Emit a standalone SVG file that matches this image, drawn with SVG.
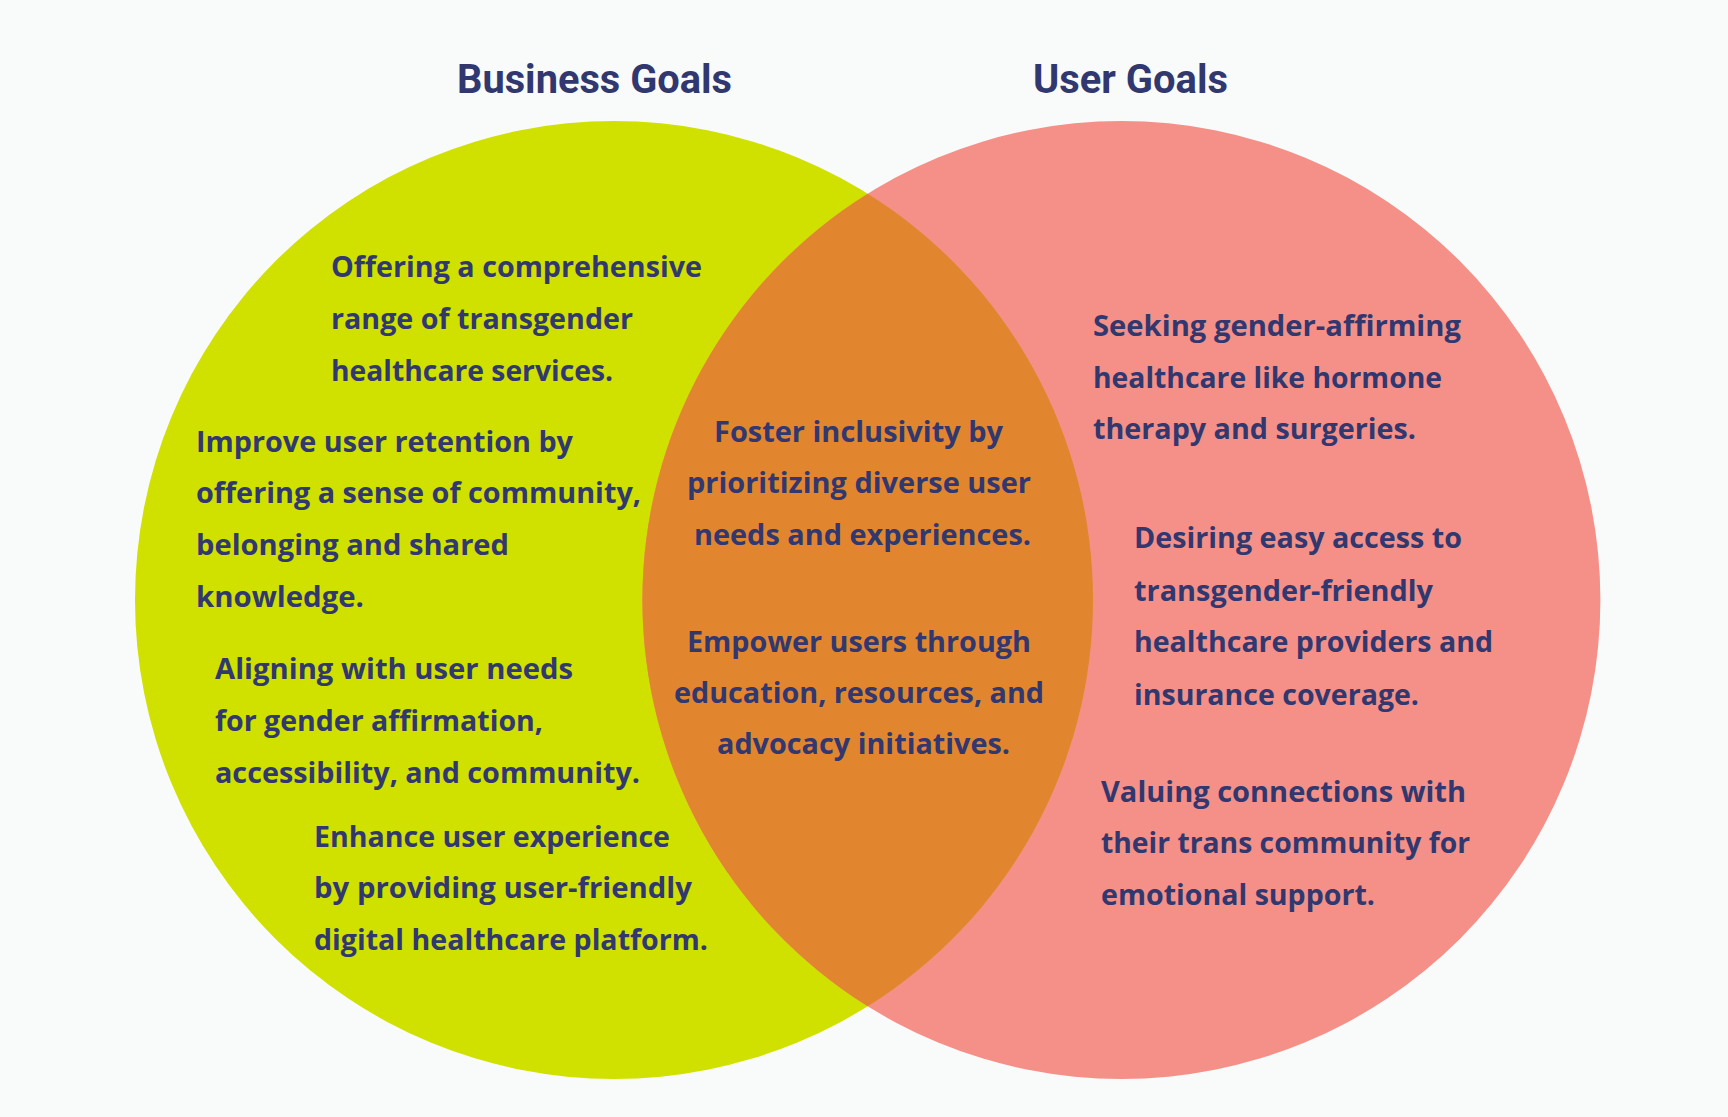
<svg xmlns="http://www.w3.org/2000/svg" width="1728" height="1117" viewBox="0 0 1728 1117">
<style>
.title{font-family:Roboto,"Liberation Sans",sans-serif;font-weight:700;font-size:40px;fill:#31386F}
.t{font-family:"Open Sans","Noto Sans","Liberation Sans",sans-serif;font-weight:700;font-size:29px;fill:#31386F}
</style>
<rect width="1728" height="1117" fill="#F9FBFA"/>
<g id="business-circle"><circle cx="614" cy="600" r="479" fill="#D0E100"/></g>
<g id="user-circle"><circle cx="1121.4" cy="600" r="479" fill="#F49088"/></g>
<g id="overlap"><path d="M867.7 193.7 A479 479 0 0 1 867.7 1006.3 A479 479 0 0 1 867.7 193.7 Z" fill="#E1862F"/></g>
<g id="connectors"></g>
<g id="titles">
<text class="title" x="457" y="93" textLength="275" lengthAdjust="spacingAndGlyphs">Business Goals</text>
<text class="title" x="1033" y="93" textLength="195" lengthAdjust="spacingAndGlyphs">User Goals</text>
</g>
<g id="business-1">
<text class="t" x="331" y="277" textLength="371" lengthAdjust="spacingAndGlyphs">Offering a comprehensive</text>
<text class="t" x="331" y="329" textLength="302" lengthAdjust="spacingAndGlyphs">range of transgender</text>
<text class="t" x="331" y="381" textLength="282" lengthAdjust="spacingAndGlyphs">healthcare services.</text>
</g>
<g id="business-2">
<text class="t" x="196" y="452" textLength="377" lengthAdjust="spacingAndGlyphs">Improve user retention by</text>
<text class="t" x="196" y="503" textLength="445" lengthAdjust="spacingAndGlyphs">offering a sense of community,</text>
<text class="t" x="196" y="555" textLength="313" lengthAdjust="spacingAndGlyphs">belonging and shared</text>
<text class="t" x="196" y="607" textLength="168" lengthAdjust="spacingAndGlyphs">knowledge.</text>
</g>
<g id="business-3">
<text class="t" x="215" y="679" textLength="358" lengthAdjust="spacingAndGlyphs">Aligning with user needs</text>
<text class="t" x="215" y="731" textLength="328" lengthAdjust="spacingAndGlyphs">for gender affirmation,</text>
<text class="t" x="215" y="783" textLength="425" lengthAdjust="spacingAndGlyphs">accessibility, and community.</text>
</g>
<g id="business-4">
<text class="t" x="314" y="847" textLength="356" lengthAdjust="spacingAndGlyphs">Enhance user experience</text>
<text class="t" x="314" y="898" textLength="378" lengthAdjust="spacingAndGlyphs">by providing user-friendly</text>
<text class="t" x="314" y="950" textLength="394" lengthAdjust="spacingAndGlyphs">digital healthcare platform.</text>
</g>
<g id="shared-1">
<text class="t" x="714" y="442" textLength="289" lengthAdjust="spacingAndGlyphs">Foster inclusivity by</text>
<text class="t" x="687" y="493" textLength="344" lengthAdjust="spacingAndGlyphs">prioritizing diverse user</text>
<text class="t" x="694" y="545" textLength="337" lengthAdjust="spacingAndGlyphs">needs and experiences.</text>
</g>
<g id="shared-2">
<text class="t" x="687" y="652" textLength="344" lengthAdjust="spacingAndGlyphs">Empower users through</text>
<text class="t" x="674" y="703" textLength="370" lengthAdjust="spacingAndGlyphs">education, resources, and</text>
<text class="t" x="717" y="754" textLength="293" lengthAdjust="spacingAndGlyphs">advocacy initiatives.</text>
</g>
<g id="user-1">
<text class="t" x="1093" y="336" textLength="368" lengthAdjust="spacingAndGlyphs">Seeking gender-affirming</text>
<text class="t" x="1093" y="388" textLength="349" lengthAdjust="spacingAndGlyphs">healthcare like hormone</text>
<text class="t" x="1093" y="439" textLength="323" lengthAdjust="spacingAndGlyphs">therapy and surgeries.</text>
</g>
<g id="user-2">
<text class="t" x="1134" y="548" textLength="328" lengthAdjust="spacingAndGlyphs">Desiring easy access to</text>
<text class="t" x="1134" y="601" textLength="299" lengthAdjust="spacingAndGlyphs">transgender-friendly</text>
<text class="t" x="1134" y="652" textLength="359" lengthAdjust="spacingAndGlyphs">healthcare providers and</text>
<text class="t" x="1134" y="705" textLength="285" lengthAdjust="spacingAndGlyphs">insurance coverage.</text>
</g>
<g id="user-3">
<text class="t" x="1101" y="802" textLength="365" lengthAdjust="spacingAndGlyphs">Valuing connections with</text>
<text class="t" x="1101" y="853" textLength="369" lengthAdjust="spacingAndGlyphs">their trans community for</text>
<text class="t" x="1101" y="905" textLength="274" lengthAdjust="spacingAndGlyphs">emotional support.</text>
</g>
</svg>
